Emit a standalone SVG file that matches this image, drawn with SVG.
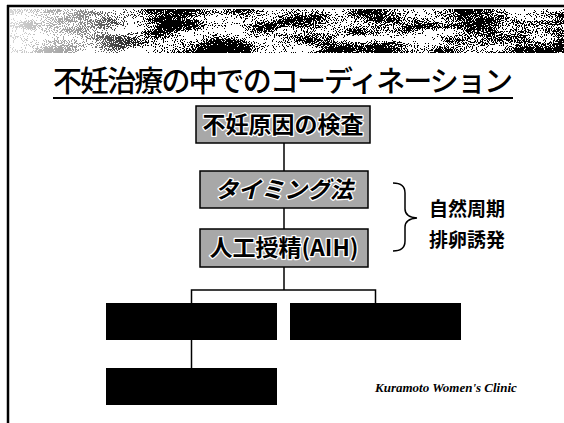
<svg xmlns="http://www.w3.org/2000/svg" width="564" height="423" viewBox="0 0 564 423">
<style>
.box{fill:#a8a8a8;stroke:#000;stroke-width:1.5}
.blk{fill:#000}
.bt{font-family:"Noto Sans CJK JP","Noto Sans",sans-serif;font-weight:700;font-size:23px;fill:#000;stroke:#fff;stroke-width:2.5;paint-order:stroke;stroke-linejoin:round;text-anchor:middle}
.line{stroke:#000;stroke-width:1.5;fill:none}
.side{font-family:"Noto Sans CJK JP","Noto Sans",sans-serif;font-weight:700;font-size:19px;fill:#000}
</style>
<defs>
<filter id="scene" x="0" y="0" width="100%" height="100%" color-interpolation-filters="sRGB">
<feTurbulence type="fractalNoise" baseFrequency="0.02 0.07" numOctaves="3" seed="4"/>
<feColorMatrix type="matrix" values="1 0 0 0 0  0 1 0 0 0  0 0 1 0 0  0 0 0 0 1" result="low"/>
<feTurbulence type="fractalNoise" baseFrequency="0.9" numOctaves="1" seed="9"/>
<feColorMatrix type="matrix" values="1 0 0 0 0  0 1 0 0 0  0 0 1 0 0  0 0 0 0 1" result="high"/>
<feComposite in="low" in2="high" operator="arithmetic" k1="0" k2="0.9" k3="1.1" k4="-0.52" result="sum"/>
<feColorMatrix in="sum" type="matrix" values="0 0 0 0 0  0 0 0 0 0  0 0 0 0 0  1 0 0 0 0"/>
<feComponentTransfer><feFuncA type="discrete" tableValues="0 1"/></feComponentTransfer>
</filter>
<linearGradient id="fade" x1="0" x2="1" y1="0" y2="0">
<stop offset="0" stop-color="#fff" stop-opacity="0.85"/>
<stop offset="0.12" stop-color="#fff" stop-opacity="0.6"/>
<stop offset="0.25" stop-color="#fff" stop-opacity="0"/>
</linearGradient>
</defs>
<rect width="564" height="423" fill="#fff"/>
<g id="frame">
<line x1="8" y1="5" x2="8" y2="423" stroke="#000" stroke-width="2.5"/>
<line x1="7" y1="6" x2="564" y2="6" stroke="#000" stroke-width="2.5"/>
</g>
<g id="scenery">
<rect x="10" y="9" width="554" height="44" fill="#000" filter="url(#scene)"/>
<rect x="10" y="9" width="554" height="44" fill="url(#fade)"/>
</g>
<g id="title">
<text x="53" y="92" font-family="'Noto Sans CJK JP','Noto Sans',sans-serif" font-size="29" font-weight="500" fill="#000" textLength="460">不妊治療の中でのコーディネーション</text>
<line x1="53" y1="98" x2="513" y2="98" stroke="#000" stroke-width="2"/>
</g>
<g id="connectors">
<line class="line" x1="284" y1="143" x2="284" y2="171"/>
<line class="line" x1="284" y1="208" x2="284" y2="229"/>
<line class="line" x1="284" y1="267" x2="284" y2="290"/>
<polyline class="line" points="191.5,303 191.5,290 375.5,290 375.5,303"/>
<line class="line" x1="191.5" y1="340" x2="191.5" y2="368"/>
<path class="line" d="M393,183 Q405,183 405,193 L405,209 Q405,217 417,218 Q405,219 405,227 L405,241 Q405,251 393,251"/>
</g>
<g id="n1"><rect class="box" x="196" y="106" width="174" height="37"/><text class="bt" x="283" y="133">不妊原因の検査</text></g>
<g id="n2"><rect class="box" x="200" y="171" width="168" height="37"/><text class="bt" x="284" y="198" font-style="italic">タイミング法</text></g>
<g id="n3"><rect class="box" x="200" y="229" width="168" height="38"/><text class="bt" x="284" y="256">人工授精(AIH)</text></g>
<g id="n4"><rect class="blk" x="106" y="303" width="171" height="37"/></g>
<g id="n5"><rect class="blk" x="290" y="303" width="171" height="37"/></g>
<g id="n6"><rect class="blk" x="106" y="368" width="171" height="37"/></g>
<g id="labels">
<text class="side" x="429" y="216">自然周期</text>
<text class="side" x="429" y="247">排卵誘発</text>
<text x="375" y="392" font-family="'Liberation Serif',serif" font-weight="700" font-style="italic" font-size="13" fill="#000">Kuramoto Women's Clinic</text>
</g>
</svg>
